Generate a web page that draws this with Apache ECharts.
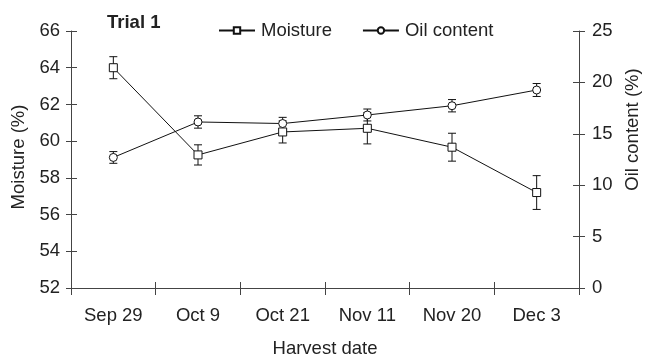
<!DOCTYPE html>
<html><head><meta charset="utf-8">
<script src="https://cdn.jsdelivr.net/npm/echarts@6/dist/echarts.min.js"></script>
<style>html,body{margin:0;padding:0;background:#fff}#c{width:645px;height:358px}</style>
</head><body><div id="c"></div>
<script>
const categories = ['Sep 29', 'Oct 9', 'Oct 21', 'Nov 11', 'Nov 20', 'Dec 3'];
const moisture = [64.0, 59.25, 60.5, 60.7, 59.67, 57.2];
const moistureErr = [0.6, 0.55, 0.6, 0.85, 0.76, 0.92];
const oil = [12.7, 16.15, 16.0, 16.83, 17.73, 19.26];
const oilErr = [0.57, 0.6, 0.6, 0.58, 0.6, 0.63];
const leftMin = 52, leftMax = 66, leftStep = 2;
const rightMin = 0, rightMax = 25, rightStep = 5;

const FONT = 'Liberation Sans, Arial, Helvetica, sans-serif';
const FS = 18.5;
const AX = '#444';
const TXT = '#222';

function errData(vals, errs) {
  return vals.map((v, i) => [i, v - errs[i], v + errs[i]]);
}
function errRender(params, api) {
  const x = api.value(0);
  const lo = api.coord([x, api.value(1)]);
  const hi = api.coord([x, api.value(2)]);
  const w = 4;
  const st = { stroke: '#111', lineWidth: 1 };
  return {
    type: 'group',
    children: [
      { type: 'line', shape: { x1: lo[0], y1: lo[1], x2: hi[0], y2: hi[1] }, style: st },
      { type: 'line', shape: { x1: lo[0] - w, y1: lo[1], x2: lo[0] + w, y2: lo[1] }, style: st },
      { type: 'line', shape: { x1: hi[0] - w, y1: hi[1], x2: hi[0] + w, y2: hi[1] }, style: st }
    ]
  };
}

const axisLabel = { color: TXT, fontSize: FS, fontFamily: FONT };
const nameStyle = { color: TXT, fontSize: FS, fontFamily: FONT };

const chart = echarts.init(document.getElementById('c'), null, { renderer: 'canvas' });
chart.setOption({
  animation: false,
  backgroundColor: '#fff',
  title: {
    text: 'Trial 1', left: 107, top: 13, padding: 0,
    textStyle: { fontSize: FS, fontWeight: 'bold', color: TXT, fontFamily: FONT }
  },
  legend: {
    left: 218, top: 21, padding: 0,
    itemWidth: 36, itemHeight: 8, itemGap: 30,
    textStyle: { fontSize: FS, color: TXT, fontFamily: FONT, padding: [0, 0, 0, 1] },
    data: ['Moisture', 'Oil content']
  },
  grid: { left: 71, right: 66, top: 31, bottom: 70, containLabel: false, outerBoundsMode: 'none' },
  xAxis: [
    {
      type: 'category', data: categories, boundaryGap: true,
      name: 'Harvest date', nameLocation: 'middle', nameGap: 51, nameTextStyle: nameStyle,
      axisLine: { lineStyle: { color: AX, width: 1 } },
      axisTick: { show: true, inside: false, length: 7, interval: 0, lineStyle: { color: AX } },
      axisLabel: Object.assign({ margin: 18, interval: 0 }, axisLabel),
      splitLine: { show: false }
    },
    {
      type: 'category', data: categories, boundaryGap: true, position: 'bottom',
      axisLine: { show: false },
      axisTick: { show: true, inside: true, length: 6, interval: 0, lineStyle: { color: AX } },
      axisLabel: { show: false }, splitLine: { show: false }
    }
  ],
  yAxis: [
    {
      type: 'value', min: leftMin, max: leftMax, interval: leftStep, position: 'left',
      name: 'Moisture (%)', nameLocation: 'middle', nameGap: 38,
      nameTextStyle: Object.assign({ padding: [0, 0, 0, 5] }, nameStyle),
      axisLine: { show: true, lineStyle: { color: AX } },
      axisTick: { show: true, inside: false, length: 5, lineStyle: { color: AX } },
      axisLabel: Object.assign({ margin: 11 }, axisLabel),
      splitLine: { show: false }
    },
    {
      type: 'value', min: rightMin, max: rightMax, interval: rightStep, position: 'right',
      name: 'Oil content (%)', nameLocation: 'middle', nameGap: 44,
      nameTextStyle: Object.assign({ padding: [0, 0, 0, 60] }, nameStyle),
      nameRotate: 90,
      axisLine: { show: true, lineStyle: { color: AX } },
      axisTick: { show: true, inside: false, length: 6, lineStyle: { color: AX } },
      axisLabel: Object.assign({ margin: 13 }, axisLabel),
      splitLine: { show: false }
    },
    {
      type: 'value', min: leftMin, max: leftMax, interval: leftStep, position: 'left',
      axisLine: { show: false },
      axisTick: { show: true, inside: true, length: 6, lineStyle: { color: AX } },
      axisLabel: { show: false }, splitLine: { show: false }
    },
    {
      type: 'value', min: rightMin, max: rightMax, interval: rightStep, position: 'right',
      axisLine: { show: false },
      axisTick: { show: true, inside: true, length: 6, lineStyle: { color: AX } },
      axisLabel: { show: false }, splitLine: { show: false }
    }
  ],
  series: [
    {
      name: 'MoistureErr', type: 'custom', xAxisIndex: 0, yAxisIndex: 0,
      renderItem: errRender, data: errData(moisture, moistureErr), z: 2, silent: true
    },
    {
      name: 'OilErr', type: 'custom', xAxisIndex: 0, yAxisIndex: 1,
      renderItem: errRender, data: errData(oil, oilErr), z: 2, silent: true
    },
    {
      name: 'Moisture', type: 'line', xAxisIndex: 0, yAxisIndex: 0, data: moisture,
      symbol: 'rect', symbolSize: 8, showSymbol: true,
      lineStyle: { color: '#111', width: 1 },
      itemStyle: { color: '#fff', borderColor: '#111', borderWidth: 1 },
      z: 3
    },
    {
      name: 'Oil content', type: 'line', xAxisIndex: 0, yAxisIndex: 1, data: oil,
      symbol: 'circle', symbolSize: 8, showSymbol: true,
      lineStyle: { color: '#111', width: 1 },
      itemStyle: { color: '#fff', borderColor: '#111', borderWidth: 1 },
      z: 3
    }
  ]
});
</script>
</body></html>
